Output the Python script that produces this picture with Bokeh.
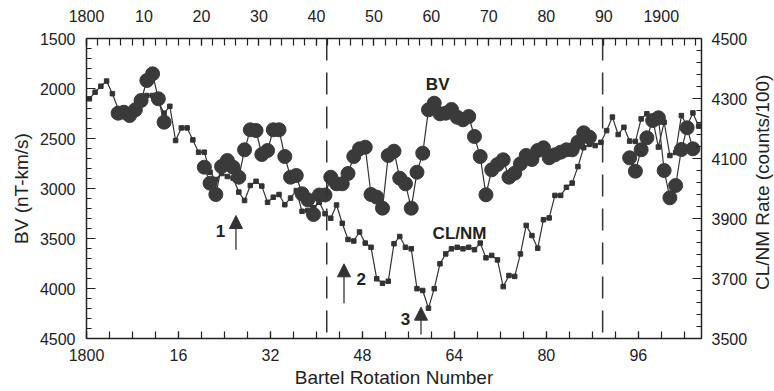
import math
import numpy as np
from bokeh.plotting import figure
from bokeh.layouts import row
from bokeh.models import Range1d, LinearAxis, FixedTicker, Span, Arrow, NormalHead, Label
from bokeh.embed import file_html
from bokeh.resources import INLINE

# ---------------- data ----------------
# CL/NM neutron monitor rate (counts/100), one value per Bartels rotation 1800..1906
cl_rot = list(range(1800, 1907))
cl_rate = [
    4299, 4321, 4341, 4358, 4316, 4266, 4258, 4262, 4277, 4304,   # 1800-1809
    4310, 4310, 4290, 4251, 4274, 4160, 4202, 4202, 4162, 4121,   # 1810-1819
    4121, 4054, 4030, 4050, 4040, 4035, 3988, 3960, 4010, 4024,   # 1820-1829
    4008, 3954, 3971, 3980, 3946, 3968, 3993, 3924, 3927, 3936,   # 1830-1839
    3954, 3916, 3901, 3945, 3884, 3830, 3825, 3855, 3818, 3804,   # 1840-1849
    3699, 3684, 3691, 3816, 3840, 3804, 3799, 3666, 3660, 3601,   # 1850-1859
    3666, 3749, 3782, 3799, 3804, 3799, 3804, 3796, 3818, 3769,   # 1860-1869
    3777, 3762, 3673, 3710, 3707, 3782, 3877, 3843, 3801, 3896,   # 1870-1879
    3902, 3977, 3977, 4004, 4018, 4073, 4136, 4147, 4143, 4154,   # 1880-1889
    4193, 4238, 4180, 4204, 4158, 4157, 4232, 4249, 4232, 4138,   # 1890-1899
    4221, 4110, 4120, 4243, 4210, 4252, 4208,                     # 1900-1906
]

# BV (nT-km/s), available rotations only
bv_rot = [1805, 1806, 1807, 1808, 1809, 1810, 1811, 1812, 1813,
          1820, 1821, 1822, 1823, 1824, 1825, 1826, 1827, 1828, 1829,
          1830, 1831, 1832, 1833, 1834, 1835, 1836, 1837, 1838, 1839,
          1840, 1841, 1842, 1843, 1844, 1845, 1846, 1847, 1848, 1849,
          1850, 1851, 1852, 1853, 1854, 1855, 1856, 1857, 1858, 1859,
          1860, 1861, 1862, 1863, 1864, 1865, 1866, 1867, 1868, 1869,
          1870, 1871, 1872, 1873, 1874, 1875, 1876, 1877, 1878, 1879,
          1880, 1881, 1882, 1883, 1884, 1885, 1886, 1887,
          1894, 1895, 1896, 1897, 1898, 1899, 1900, 1901, 1902, 1903, 1904, 1905]
bv_val = [2247, 2237, 2270, 2213, 2120, 1920, 1853, 2103, 2337,
          2787, 2947, 3060, 2780, 2720, 2787, 2887, 2613, 2413, 2420,
          2660, 2620, 2413, 2413, 2680, 2887, 2870, 3053, 3113, 3260,
          3065, 3065, 2887, 2953, 2953, 2850, 2680, 2603, 2587, 3060,
          3087, 3197, 2670, 2627, 2897, 2953, 3197, 2837, 2647, 2213,
          2147, 2253, 2247, 2210, 2287, 2313, 2280, 2480, 2680, 3063,
          2813, 2760, 2713, 2887, 2847, 2753, 2670, 2710, 2620, 2593,
          2693, 2663, 2637, 2613, 2613, 2537, 2443, 2487,
          2693, 2827, 2613, 2493, 2320, 2293, 2820, 3093, 2970, 2610, 2393, 2603]

bottom_ticks = [1800, 1816, 1832, 1848, 1864, 1880, 1896]
bottom_labels = ["1800", "16", "32", "48", "64", "80", "96"]
top_ticks = [1800, 1810, 1820, 1830, 1840, 1850, 1860, 1870, 1880, 1890, 1900]
top_labels = ["1800", "10", "20", "30", "40", "50", "60", "70", "80", "90", "1900"]
left_ticks = [1500, 2000, 2500, 3000, 3500, 4000, 4500]
right_ticks = [3500, 3700, 3900, 4100, 4300, 4500]
dashed_rot = [1841.8, 1889.8]

# ---------------- figure ----------------
FONT = "Liberation Sans"
INK = "#222222"
MARK = "#3a3a3a"

p = figure(width=750, height=391, output_backend="svg", toolbar_location=None,
           x_range=Range1d(1800, 1907), y_range=Range1d(4500, 1500),
           x_axis_location=None, y_axis_location=None,
           min_border_left=86, min_border_right=48, min_border_top=38, min_border_bottom=53)
p.grid.visible = False
p.outline_line_color = None
p.background_fill_color = "white"
p.border_fill_color = "white"
p.extra_y_ranges = {"cl": Range1d(3500, 4500)}


def style(ax, tick_major, tick_minor):
    ax.axis_line_color = INK
    ax.axis_line_width = 1.5
    ax.major_tick_line_color = INK
    ax.minor_tick_line_color = INK
    ax.major_tick_line_width = 1.2
    ax.minor_tick_line_width = 1.2
    ax.major_tick_in = tick_major
    ax.major_tick_out = 0
    ax.minor_tick_in = tick_minor
    ax.minor_tick_out = 0
    ax.major_label_text_font = FONT
    ax.major_label_text_font_size = "16px"
    ax.major_label_text_color = INK
    ax.axis_label_text_font = FONT
    ax.axis_label_text_font_size = "19px"
    ax.axis_label_text_font_style = "normal"
    ax.axis_label_text_color = INK


left = LinearAxis(ticker=FixedTicker(ticks=left_ticks, minor_ticks=list(range(1500, 4501, 100))),
                  axis_label="BV (nT-km/s)")
style(left, 9, 5)
left.major_label_standoff = 11
left.axis_label_standoff = 5
p.add_layout(left, "left")

right = LinearAxis(y_range_name="cl",
                   ticker=FixedTicker(ticks=right_ticks, minor_ticks=list(range(3500, 4501, 40))))
style(right, 9, 5)
right.major_label_standoff = 10
p.add_layout(right, "right")

bottom = LinearAxis(ticker=FixedTicker(ticks=bottom_ticks, minor_ticks=list(range(1800, 1908, 4))),
                    axis_label="Bartel Rotation Number",
                    major_label_overrides=dict(zip(bottom_ticks, bottom_labels)))
style(bottom, 7, 7)
bottom.major_label_standoff = 10
bottom.axis_label_standoff = 3
p.add_layout(bottom, "below")

top = LinearAxis(ticker=FixedTicker(ticks=top_ticks, minor_ticks=list(range(1800, 1908, 2))),
                 major_label_overrides=dict(zip(top_ticks, top_labels)))
style(top, 7, 7)
top.major_label_standoff = 17
p.add_layout(top, "above")

# dashed vertical lines
for r in dashed_rot:
    p.add_layout(Span(location=r, dimension="height", line_color="#333333",
                      line_width=1.5, line_dash="22 12"))

# CL/NM series (plotted at rotation midpoints)
cl_x = np.array(cl_rot, dtype=float) + 0.5
p.line(cl_x, cl_rate, y_range_name="cl", line_color="#333333", line_width=1.2)
p.scatter(cl_x, cl_rate, y_range_name="cl", marker="square", size=4.5,
          fill_color="#333333", line_color="#333333")

# BV series, broken where rotations are missing
bx, by = [], []
for i, (r, v) in enumerate(zip(bv_rot, bv_val)):
    if i > 0 and r - bv_rot[i - 1] > 1:
        bx.append(np.nan)
        by.append(np.nan)
    bx.append(r + 0.5)
    by.append(v)
p.line(bx, by, line_color="#333333", line_width=1.2)
p.scatter(np.array(bv_rot, dtype=float) + 0.5, bv_val, size=14,
          fill_color=MARK, line_color=MARK)

# arrows and annotations
arrows = [(1826.0, 3613, 3270), (1844.8, 4147, 3753), (1858.2, 4460, 4187)]
for ax_, y0, y1 in arrows:
    p.add_layout(Arrow(end=NormalHead(size=13, fill_color="#333333", line_color="#333333"),
                       x_start=ax_, y_start=y0, x_end=ax_, y_end=y1,
                       line_color="#333333", line_width=1.3))

texts = [("BV", 1861.1, 1960), ("CL/NM", 1864.9, 3450),
         ("1", 1823.3, 3420), ("2", 1847.8, 3900), ("3", 1855.5, 4300)]
for t, x, y in texts:
    p.add_layout(Label(x=x, y=y, text=t, text_font=FONT, text_font_size="17px",
                       text_font_style="bold", text_color=INK,
                       text_align="center", text_baseline="middle"))

# narrow strip on the right carrying the right-hand axis title (reads bottom to top)
strip = figure(width=24, height=391, output_backend="svg", toolbar_location=None,
               x_range=Range1d(0, 24), y_range=Range1d(0, 391),
               x_axis_location=None, y_axis_location=None,
               min_border_left=0, min_border_right=0, min_border_top=0, min_border_bottom=0)
strip.grid.visible = False
strip.outline_line_color = None
strip.background_fill_color = "white"
strip.border_fill_color = "white"
strip.add_layout(Label(x=11.5, y=203.5, text="CL/NM Rate (counts/100)", angle=math.pi / 2,
                       text_font=FONT, text_font_size="19px", text_color=INK,
                       text_align="center", text_baseline="middle"))

layout = row(p, strip, spacing=0)
open("out.html", "w").write(file_html(layout, INLINE))
